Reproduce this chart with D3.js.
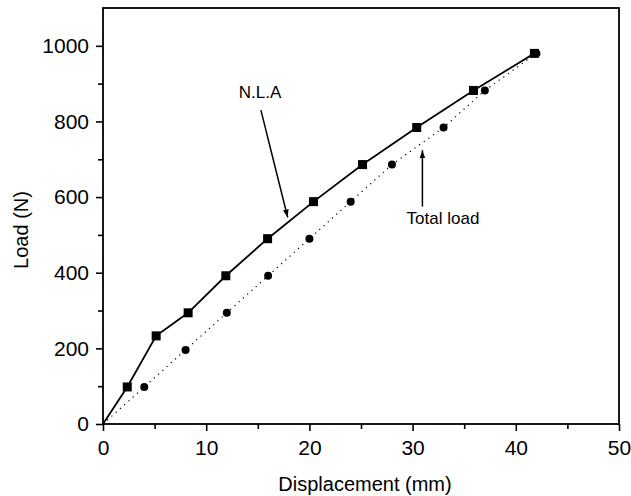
<!DOCTYPE html>
<html>
<head>
<meta charset="utf-8">
<script src="https://cdn.jsdelivr.net/npm/d3@7"></script>
<style>
  body { margin: 0; background: #fff; }
  text { font-family: "Liberation Sans", Arial, sans-serif; fill: #000; }
</style>
</head>
<body>
<script>
// N.L.A series (squares, solid line)
var nlaDisp = [0, 2.35, 5.15, 8.25, 11.9, 15.95, 20.4, 25.15, 30.4, 35.9, 41.8];
var nlaLoad = [0, 98, 233, 294, 392, 490, 588, 686, 784, 882, 980];
// Total load series (circles, dotted line)
var totDisp = [0, 4, 8, 12, 16, 20, 24, 28, 33, 37, 42];
var totLoad = [0, 98, 196, 294, 392, 490, 588, 686, 784, 882, 980];

var xTicks = [0, 10, 20, 30, 40, 50];
var yTicks = [0, 200, 400, 600, 800, 1000];

var width = 631, height = 496;
var margin = {top: 8, right: 12, bottom: 72, left: 103};

var svg = d3.select("body").append("svg")
	.attr("width", width)
	.attr("height", height);

var x = d3.scaleLinear().domain([0, 50]).range([margin.left, width - margin.right]);
var y = d3.scaleLinear().domain([0, 1100]).range([height - margin.bottom, margin.top]);

var nla = nlaDisp.map(function(d, i){ return [d, nlaLoad[i]]; });
var tot = totDisp.map(function(d, i){ return [d, totLoad[i]]; });

var line = d3.line().x(function(d){ return x(d[0]); }).y(function(d){ return y(d[1]); });

// frame
svg.append("rect")
	.attr("x", x(0)).attr("y", y(1100))
	.attr("width", x(50) - x(0)).attr("height", y(0) - y(1100))
	.attr("fill", "none").attr("stroke", "#000").attr("stroke-width", 1.8);

// minor ticks
var xMinor = d3.axisBottom(x).tickValues(d3.range(5, 50, 10)).tickSize(5).tickFormat("");
var yMinor = d3.axisLeft(y).tickValues(d3.range(100, 1100, 200)).tickSize(5).tickFormat("");

svg.append("g").attr("transform", "translate(0," + y(0) + ")")
	.call(d3.axisBottom(x).tickValues(xTicks).tickSize(7).tickPadding(9).tickFormat(d3.format("d")));
svg.append("g").attr("transform", "translate(0," + y(0) + ")").call(xMinor);
svg.append("g").attr("transform", "translate(" + x(0) + ",0)")
	.call(d3.axisLeft(y).tickValues(yTicks).tickSize(7).tickPadding(7).tickFormat(d3.format("d")));
svg.append("g").attr("transform", "translate(" + x(0) + ",0)").call(yMinor);

svg.selectAll(".domain").remove();
svg.selectAll(".tick line").attr("stroke", "#000").attr("stroke-width", 1.6);
svg.selectAll(".tick text")
	.style("font-family", "'Liberation Sans', Arial, sans-serif")
	.style("font-size", "21px").attr("fill", "#000");

// axis titles
svg.append("text")
	.attr("x", (x(0) + x(50)) / 2 + 4).attr("y", 491)
	.attr("text-anchor", "middle").style("font-size", "20px")
	.text("Displacement (mm)");
svg.append("text")
	.attr("transform", "translate(28,230) rotate(-90)")
	.attr("text-anchor", "middle").style("font-size", "20px")
	.text("Load (N)");

// total load dotted line
svg.append("path").datum(tot)
	.attr("d", line)
	.attr("fill", "none").attr("stroke", "#000").attr("stroke-width", 1.2)
	.attr("stroke-dasharray", "1.2,4.5");

// NLA solid line
svg.append("path").datum(nla)
	.attr("d", line)
	.attr("fill", "none").attr("stroke", "#000").attr("stroke-width", 1.8);

svg.selectAll("circle.tot").data(tot.slice(1)).enter().append("circle")
	.attr("class", "tot")
	.attr("cx", function(d){ return x(d[0]); })
	.attr("cy", function(d){ return y(d[1]); })
	.attr("r", 4).attr("fill", "#000");

svg.selectAll("rect.nla").data(nla.slice(1)).enter().append("rect")
	.attr("class", "nla")
	.attr("x", function(d){ return x(d[0]) - 4.5; })
	.attr("y", function(d){ return y(d[1]) - 4.5; })
	.attr("width", 9).attr("height", 9).attr("fill", "#000");

// annotations
var defs = svg.append("defs");
defs.append("marker").attr("id", "arr")
	.attr("viewBox", "0 0 10 10").attr("refX", 10).attr("refY", 5)
	.attr("markerWidth", 8).attr("markerHeight", 8).attr("orient", "auto")
	.attr("markerUnits", "userSpaceOnUse")
	.append("path").attr("d", "M0,1.5 L10,5 L0,8.5 Z").attr("fill", "#000");

svg.append("text").attr("x", 260).attr("y", 98)
	.attr("text-anchor", "middle").style("font-size", "17px").text("N.L.A");
svg.append("line")
	.attr("x1", x(15.3)).attr("y1", y(830)).attr("x2", x(17.9)).attr("y2", y(546))
	.attr("stroke", "#000").attr("stroke-width", 1.5).attr("marker-end", "url(#arr)");

svg.append("text").attr("x", 443).attr("y", 224)
	.attr("text-anchor", "middle").style("font-size", "17px").text("Total load");
svg.append("line")
	.attr("x1", x(30.95)).attr("y1", y(575)).attr("x2", x(30.95)).attr("y2", y(724))
	.attr("stroke", "#000").attr("stroke-width", 1.5).attr("marker-end", "url(#arr)");
</script>
</body>
</html>
